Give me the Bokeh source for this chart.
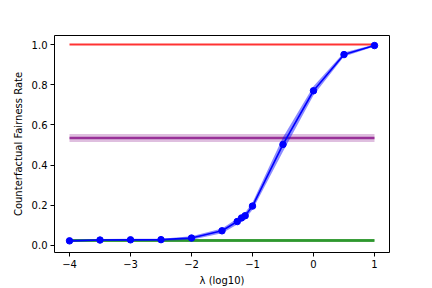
from bokeh.plotting import figure
from bokeh.embed import file_html
from bokeh.resources import INLINE
from bokeh.models import FixedTicker, Range1d

# data
lam_log = [-4, -3.5, -3, -2.5, -2, -1.5, -1.25, -1.18, -1.12, -1, -0.5, 0, 0.5, 1]
cf_rate = [0.023, 0.027, 0.028, 0.029, 0.037, 0.073, 0.119, 0.137, 0.148, 0.196, 0.503, 0.770, 0.950, 0.995]
cf_lo = [0.018, 0.022, 0.023, 0.024, 0.028, 0.061, 0.104, 0.121, 0.132, 0.178, 0.468, 0.748, 0.940, 0.990]
cf_hi = [0.028, 0.032, 0.033, 0.034, 0.046, 0.085, 0.134, 0.153, 0.164, 0.214, 0.538, 0.792, 0.960, 1.000]
ref_x = [-4, 1]
red_level = 1.0
purple_level = 0.535
purple_band = 0.02
green_level = 0.025
green_band = 0.003
xticks = [-4, -3, -2, -1, 0, 1]
yticks = [0.0, 0.2, 0.4, 0.6, 0.8, 1.0]

FONT = "DejaVu Sans"

p = figure(width=432, height=288, output_backend="svg", toolbar_location=None,
           x_range=Range1d(-4.246, 1.246), y_range=Range1d(-0.035, 1.045),
           min_border_left=54, min_border_right=43, min_border_top=35, min_border_bottom=35)
p.grid.visible = False
p.outline_line_color = "black"
p.outline_line_width = 1
p.background_fill_color = "white"
p.border_fill_color = "white"

# reference lines
p.line(ref_x, [red_level] * 2, line_color="red", line_alpha=0.8, line_width=2)
p.varea(x=ref_x, y1=[purple_level - purple_band] * 2, y2=[purple_level + purple_band] * 2,
        fill_color="purple", fill_alpha=0.25)
p.line(ref_x, [purple_level] * 2, line_color="purple", line_alpha=0.75, line_width=2.5)
p.varea(x=ref_x, y1=[green_level - green_band] * 2, y2=[green_level + green_band] * 2,
        fill_color="green", fill_alpha=0.3)
p.line(ref_x, [green_level] * 2, line_color="green", line_alpha=0.75, line_width=3)

# main curve
p.varea(x=lam_log, y1=cf_lo, y2=cf_hi, fill_color="blue", fill_alpha=0.45)
p.line(lam_log, cf_rate, line_color="blue", line_width=1.6)
p.scatter(lam_log, cf_rate, size=6.5, color="blue")

for ax in (p.xaxis[0], p.yaxis[0]):
    ax.major_label_text_font = FONT
    ax.major_label_text_font_size = "10px"
    ax.axis_label_text_font = FONT
    ax.axis_label_text_font_size = "10px"
    ax.axis_label_text_font_style = "normal"
    ax.axis_label_text_color = "black"
    ax.major_label_text_color = "black"
    ax.axis_line_color = None
    ax.major_tick_line_color = "black"
    ax.major_tick_out = 4
    ax.major_tick_in = 0
    ax.minor_tick_line_color = None
    ax.major_label_standoff = 3

p.xaxis.ticker = FixedTicker(ticks=xticks)
p.xaxis.major_label_overrides = {t: (str(t).replace("-", "\u2212")) for t in xticks}
p.yaxis.ticker = FixedTicker(ticks=yticks)
p.yaxis.major_label_overrides = {t: f"{t:.1f}" for t in yticks}
p.xaxis.axis_label = "λ (log10)"
p.yaxis.axis_label = "Counterfactual Fairness Rate"
p.xaxis.axis_label_standoff = 4
p.yaxis.axis_label_standoff = 5

open("out.html", "w").write(file_html(p, INLINE))
